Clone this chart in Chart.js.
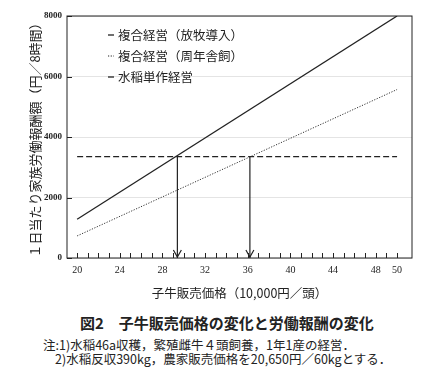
<!DOCTYPE html>
<html>
<head>
<meta charset="utf-8">
<script src="https://cdn.jsdelivr.net/npm/chart.js@4"></script>
<style>
  body { margin: 0; background: #fff; }
  #wrap { position: relative; width: 426px; height: 379px; font-family: 'Noto Sans CJK JP', sans-serif; color: #222; }
  #box { position: absolute; left: 0; top: 0; width: 426px; height: 305px; }
  .txt { position: absolute; white-space: nowrap; }
</style>
</head>
<body>
<div id="wrap">
  <div id="box"><canvas id="chart"></canvas></div>
  <div class="txt" style="left:80px; top:312px; font-size:15px; font-weight:bold;">図2　子牛販売価格の変化と労働報酬の変化</div>
  <div class="txt" style="left:43px; top:335px; font-size:12.5px;">注:1)水稲46a収穫，繁殖雌牛４頭飼養，1年1産の経営．</div>
  <div class="txt" style="left:55px; top:349px; font-size:12.5px;">2)水稲反収390kg，農家販売価格を20,650円／60kgとする．</div>
</div>
<script>
// 子牛価格（万円／頭）
const prices = [20, 50];
const grazing = [1280, 8000];   // 複合経営（放牧導入）
const confined = [730, 5570];   // 複合経営（周年舎飼）
const riceOnly = [3350, 3350];  // 水稲単作経営
const breakEven = [29.4, 36.2]; // 交点の価格
const xTicks = [20, 24, 28, 32, 36, 40, 44, 48, 50];
const yTicks = [0, 2000, 4000, 6000, 8000];

const pts = (ys) => prices.map((x, i) => ({ x: x, y: ys[i] }));
const arrow = (x) => [{ x: x, y: riceOnly[0] }, { x: x, y: 0 }];

// 枠線・内向き目盛・矢印・凡例
const extras = {
  id: 'extras',
  afterDatasetsDraw(chart) {
    const { ctx, chartArea: a, scales: { x, y } } = chart;
    ctx.save();
    ctx.strokeStyle = '#222';
    ctx.lineWidth = 1;
    ctx.strokeRect(a.left, a.top, a.right - a.left, a.bottom - a.top);
    ctx.beginPath();
    for (let v = 20; v <= 50; v++) {
      const px = Math.round(x.getPixelForValue(v)) + 0.5;
      ctx.moveTo(px, a.bottom);
      ctx.lineTo(px, a.bottom - 5);
    }
    yTicks.forEach(v => {
      const py = Math.round(y.getPixelForValue(v)) + 0.5;
      ctx.moveTo(a.left, py);
      ctx.lineTo(a.left + 5, py);
    });
    ctx.stroke();

    // 矢印の先
    ctx.lineWidth = 1.2;
    breakEven.forEach(v => {
      const px = x.getPixelForValue(v);
      const py = y.getPixelForValue(0) - 1;
      ctx.beginPath();
      ctx.moveTo(px - 4, py - 7);
      ctx.lineTo(px, py);
      ctx.lineTo(px + 4, py - 7);
      ctx.stroke();
    });

    // 凡例
    ctx.font = '12.5px "Noto Sans CJK JP"';
    ctx.fillStyle = '#222';
    ctx.textBaseline = 'middle';
    chart.data.datasets.slice(0, 3).forEach((ds, i) => {
      const ly = a.top + 19 + i * 21;
      const lx = a.left + 41;
      ctx.beginPath();
      ctx.setLineDash(i === 1 ? [1.2, 1.5] : []);
      ctx.lineWidth = i === 1 ? 1 : 1.3;
      ctx.moveTo(lx, ly);
      ctx.lineTo(lx + 6, ly);
      ctx.stroke();
      ctx.setLineDash([]);
      ctx.fillText(ds.label, lx + 10, ly);
    });
    ctx.restore();
  }
};

new Chart(document.getElementById('chart'), {
  type: 'line',
  data: {
    datasets: [
      { label: '複合経営（放牧導入）', data: pts(grazing), borderColor: '#222', borderWidth: 1.3 },
      { label: '複合経営（周年舎飼）', data: pts(confined), borderColor: '#333', borderWidth: 1, borderDash: [1.2, 1.5] },
      { label: '水稲単作経営', data: pts(riceOnly), borderColor: '#222', borderWidth: 1.3, borderDash: [6, 3] },
      { label: 'a1', data: arrow(breakEven[0]), borderColor: '#222', borderWidth: 1.2 },
      { label: 'a2', data: arrow(breakEven[1]), borderColor: '#222', borderWidth: 1.2 }
    ]
  },
  options: {
    responsive: true,
    maintainAspectRatio: false,
    animation: false,
    elements: { point: { radius: 0 }, line: { tension: 0 } },
    layout: { padding: { top: 16, right: 14, left: 0, bottom: 0 } },
    plugins: { legend: { display: false }, tooltip: { enabled: false } },
    scales: {
      x: {
        type: 'linear',
        min: 19.05,
        max: 51.4,
        afterBuildTicks: (s) => { s.ticks = xTicks.map(v => ({ value: v })); },
        ticks: { padding: 6, color: '#222', font: { family: '"Liberation Serif"', size: 10 } },
        grid: { display: false, drawTicks: false },
        border: { display: false },
        title: { display: true, text: '子牛販売価格（10,000円／頭）', color: '#222', padding: { top: 4 },
                 font: { family: '"Noto Sans CJK JP"', size: 12.5 } }
      },
      y: {
        min: 0,
        max: 8000,
        afterBuildTicks: (s) => { s.ticks = yTicks.map(v => ({ value: v })); },
        afterFit: (s) => { s.width = 67; },
        ticks: { padding: 5, color: '#222', font: { family: '"Liberation Serif"', size: 9, weight: 'bold' },
                 callback: (v) => String(v) },
        grid: { drawTicks: false, color: '#e4e4e4' },
        border: { display: false },
        title: { display: true, text: '１日当たり家族労働報酬額（円／8時間）', color: '#222', padding: { top: 27, bottom: 0 },
                 font: { family: '"Noto Sans CJK JP"', size: 13 } }
      }
    }
  },
  plugins: [extras]
});
</script>
</body>
</html>
